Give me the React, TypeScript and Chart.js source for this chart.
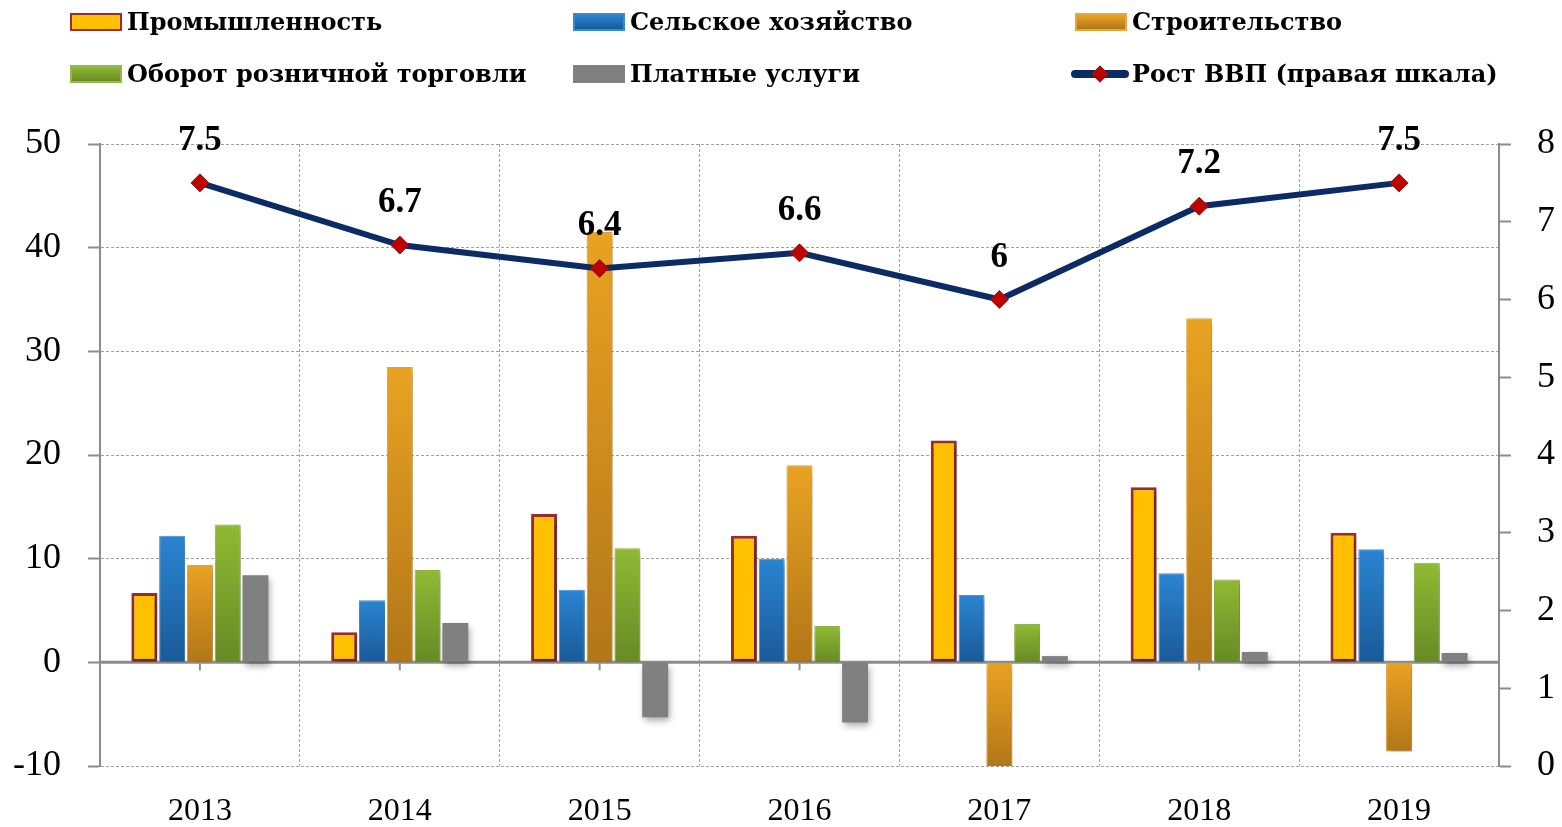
import React, { useEffect, useRef } from "react";
import { Chart, registerables } from "chart.js";

Chart.register(...registerables);

const years = ["2013", "2014", "2015", "2016", "2017", "2018", "2019"];
const seriesNames = [
  "Промышленность",
  "Сельское хозяйство",
  "Строительство",
  "Оборот розничной торговли",
  "Платные услуги",
  "Рост ВВП (правая шкала)",
];
const industry = [6.7, 2.9, 14.3, 12.2, 21.4, 16.9, 12.5];
const agriculture = [12.2, 6.0, 7.0, 10.0, 6.5, 8.6, 10.9];
const construction = [9.4, 28.5, 41.5, 19.0, -10.3, 33.2, -8.6];
const retail = [13.3, 8.9, 11.0, 3.5, 3.7, 8.0, 9.6];
const services = [8.4, 3.8, -5.3, -5.8, 0.6, 1.0, 0.9];
const gdp = [7.5, 6.7, 6.4, 6.6, 6.0, 7.2, 7.5];
const gdpLabels = ["7.5", "6.7", "6.4", "6.6", "6", "7.2", "7.5"];

const SERIF = '"Liberation Serif", "Times New Roman", serif';
const LEGEND_FONT = '"DejaVu Serif", serif';

function grad(top: string, bottom: string) {
  return (ctx: any) => {
    const chart = ctx.chart;
    const { chartArea, scales } = chart;
    if (!chartArea || ctx.type !== "data" || !scales.y) return top;
    const v = ctx.parsed ? ctx.parsed.y : ctx.raw;
    const y0 = scales.y.getPixelForValue(0);
    const y1 = scales.y.getPixelForValue(v);
    const a = Math.min(y0, y1);
    const b = Math.max(y0, y1);
    if (!isFinite(a) || !isFinite(b) || b - a < 1) return top;
    const g = chart.ctx.createLinearGradient(0, a, 0, b);
    g.addColorStop(0, top);
    g.addColorStop(1, bottom);
    return g;
  };
}

const decoPlugin = {
  id: "deco",
  beforeDatasetsDraw(chart: any) {
    const { ctx, chartArea, scales } = chart;
    const y0 = scales.y.getPixelForValue(0);
    ctx.save();
    ctx.strokeStyle = "#8c8c8c";
    ctx.lineWidth = 3;
    ctx.beginPath();
    ctx.moveTo(chartArea.left, y0);
    ctx.lineTo(chartArea.right, y0);
    ctx.stroke();
    ctx.lineWidth = 2;
    years.forEach((_, i) => {
      const x = scales.x.getPixelForValue(i);
      ctx.beginPath();
      ctx.moveTo(x, y0);
      ctx.lineTo(x, y0 + 8);
      ctx.stroke();
    });
    ctx.restore();
  },
  beforeDatasetDraw(chart: any, args: any) {
    const ds = chart.data.datasets[args.index];
    if (ds.type === "bar" || !ds.type) {
      const c = chart.ctx;
      c.save();
      c.shadowColor = "rgba(0,0,0,0.35)";
      c.shadowBlur = 7;
      c.shadowOffsetX = 2;
      c.shadowOffsetY = 4;
    }
  },
  afterDatasetDraw(chart: any, args: any) {
    const ds = chart.data.datasets[args.index];
    if (ds.type === "bar" || !ds.type) {
      chart.ctx.restore();
    }
  },
  afterDatasetsDraw(chart: any) {
    const idx = chart.data.datasets.findIndex((d: any) => d.type === "line");
    const meta = chart.getDatasetMeta(idx);
    const ctx = chart.ctx;
    ctx.save();
    ctx.font = `bold 35px ${SERIF}`;
    ctx.fillStyle = "#000";
    ctx.textAlign = "center";
    ctx.textBaseline = "middle";
    meta.data.forEach((pt: any, i: number) => {
      ctx.fillText(gdpLabels[i], pt.x, pt.y - 42);
    });
    ctx.restore();
  },
};

function LegendBox({ bg, border }: { bg: string; border: string }) {
  return (
    <div
      style={{
        width: 52,
        height: 18,
        boxSizing: "border-box",
        background: bg,
        border: `2px solid ${border}`,
        flex: "0 0 auto",
      }}
    />
  );
}

const legendText: React.CSSProperties = {
  fontFamily: LEGEND_FONT,
  fontWeight: "bold",
  fontSize: 24,
  color: "#000",
  marginLeft: 5,
  whiteSpace: "nowrap",
  lineHeight: "28px",
};

export default function App() {
  const ref = useRef<HTMLCanvasElement>(null);

  useEffect(() => {
    if (!ref.current) return;
    const chart = new Chart(ref.current, {
      type: "bar",
      data: {
        labels: years,
        datasets: [
          {
            type: "line",
            label: seriesNames[5],
            data: gdp,
            yAxisID: "y1",
            order: 0,
            borderColor: "#0c2a64",
            borderWidth: 6,
            pointStyle: "rectRot",
            pointRadius: 9,
            pointBackgroundColor: "#c00000",
            pointBorderColor: "#8b1a1a",
            pointBorderWidth: 1,
            tension: 0,
            fill: false,
          } as any,
          {
            type: "bar",
            label: seriesNames[0],
            data: industry,
            yAxisID: "y",
            order: 1,
            backgroundColor: "#ffc000",
            borderColor: "#9b2d30",
            borderWidth: 3,
            borderSkipped: false,
          },
          {
            type: "bar",
            label: seriesNames[1],
            data: agriculture,
            yAxisID: "y",
            order: 1,
            backgroundColor: grad("#2a84d2", "#1a5a98"),
            borderColor: "#4a94d4",
            borderWidth: 1,
          },
          {
            type: "bar",
            label: seriesNames[2],
            data: construction,
            yAxisID: "y",
            order: 1,
            backgroundColor: grad("#e9a222", "#b27618"),
            borderColor: "#e8a73a",
            borderWidth: 1,
          },
          {
            type: "bar",
            label: seriesNames[3],
            data: retail,
            yAxisID: "y",
            order: 1,
            backgroundColor: grad("#8fba33", "#678a24"),
            borderColor: "#94b84a",
            borderWidth: 1,
          },
          {
            type: "bar",
            label: seriesNames[4],
            data: services,
            yAxisID: "y",
            order: 1,
            backgroundColor: "#808080",
            borderColor: "#8a8a8a",
            borderWidth: 0,
          },
        ],
      },
      options: {
        responsive: false,
        animation: false,
        layout: { padding: { top: 144, left: 0, right: 0, bottom: 0 } },
        datasets: {
          bar: { categoryPercentage: 0.695, barPercentage: 0.935 },
        },
        plugins: {
          legend: { display: false },
          tooltip: { enabled: false },
        },
        scales: {
          x: {
            grid: {
              offset: true,
              color: "#a0a0a0",
              lineWidth: 1,
              drawTicks: false,
            },
            border: { display: false, dash: [3, 2] },
            ticks: {
              color: "#000",
              padding: 26,
              font: { family: SERIF, size: 32 },
            },
            afterFit: (s: any) => {
              s.height = 61;
            },
          },
          y: {
            position: "left",
            min: -10,
            max: 50,
            ticks: {
              stepSize: 10,
              color: "#000",
              padding: 27,
              font: { family: SERIF, size: 36 },
            },
            grid: {
              color: "#a0a0a0",
              lineWidth: 1,
              tickLength: 12,
              tickColor: "#8c8c8c",
              tickWidth: 2,
            },
            border: { color: "#8c8c8c", width: 2, dash: [3, 2] },
            afterFit: (s: any) => {
              s.width = 100;
            },
          },
          y1: {
            position: "right",
            min: 0,
            max: 8,
            ticks: {
              stepSize: 1,
              color: "#000",
              padding: 26,
              font: { family: SERIF, size: 36 },
            },
            grid: {
              drawOnChartArea: false,
              tickLength: 12,
              tickColor: "#8c8c8c",
              tickWidth: 2,
            },
            border: { color: "#8c8c8c", width: 2 },
            afterFit: (s: any) => {
              s.width = 63;
            },
          },
        },
      },
      plugins: [decoPlugin],
    });
    return () => chart.destroy();
  }, []);

  const item = (left: number, top: number): React.CSSProperties => ({
    position: "absolute",
    left,
    top,
    height: 28,
    display: "flex",
    alignItems: "center",
  });

  return (
    <div style={{ position: "absolute", left: 0, top: 0, width: 1562, height: 827, background: "#fff" }}>
      <canvas ref={ref} width={1562} height={827} style={{ position: "absolute", left: 0, top: 0 }} />
      <div style={item(70, 8)}>
        <LegendBox bg="#ffc000" border="#9b2d30" />
        <span style={legendText}>{seriesNames[0]}</span>
      </div>
      <div style={item(573, 8)}>
        <LegendBox bg="linear-gradient(#2a84d2,#1a5a98)" border="#3a8ad0" />
        <span style={legendText}>{seriesNames[1]}</span>
      </div>
      <div style={item(1075, 8)}>
        <LegendBox bg="linear-gradient(#e9a222,#b27618)" border="#e8a73a" />
        <span style={legendText}>{seriesNames[2]}</span>
      </div>
      <div style={item(70, 60)}>
        <LegendBox bg="linear-gradient(#8fba33,#678a24)" border="#94b84a" />
        <span style={legendText}>{seriesNames[3]}</span>
      </div>
      <div style={item(573, 60)}>
        <LegendBox bg="#808080" border="#808080" />
        <span style={legendText}>{seriesNames[4]}</span>
      </div>
      <div style={item(1071, 60)}>
        <div style={{ position: "relative", width: 58, height: 28, flex: "0 0 auto" }}>
          <div
            style={{
              position: "absolute",
              left: 0,
              top: 10,
              width: 58,
              height: 8,
              borderRadius: 4,
              background: "#0c2a64",
            }}
          />
          <div
            style={{
              position: "absolute",
              left: 23,
              top: 8,
              width: 12,
              height: 12,
              background: "#c00000",
              border: "1px solid #8b1a1a",
              boxSizing: "border-box",
              transform: "rotate(45deg)",
            }}
          />
        </div>
        <span style={{ ...legendText, marginLeft: 3 }}>{seriesNames[5]}</span>
      </div>
    </div>
  );
}
